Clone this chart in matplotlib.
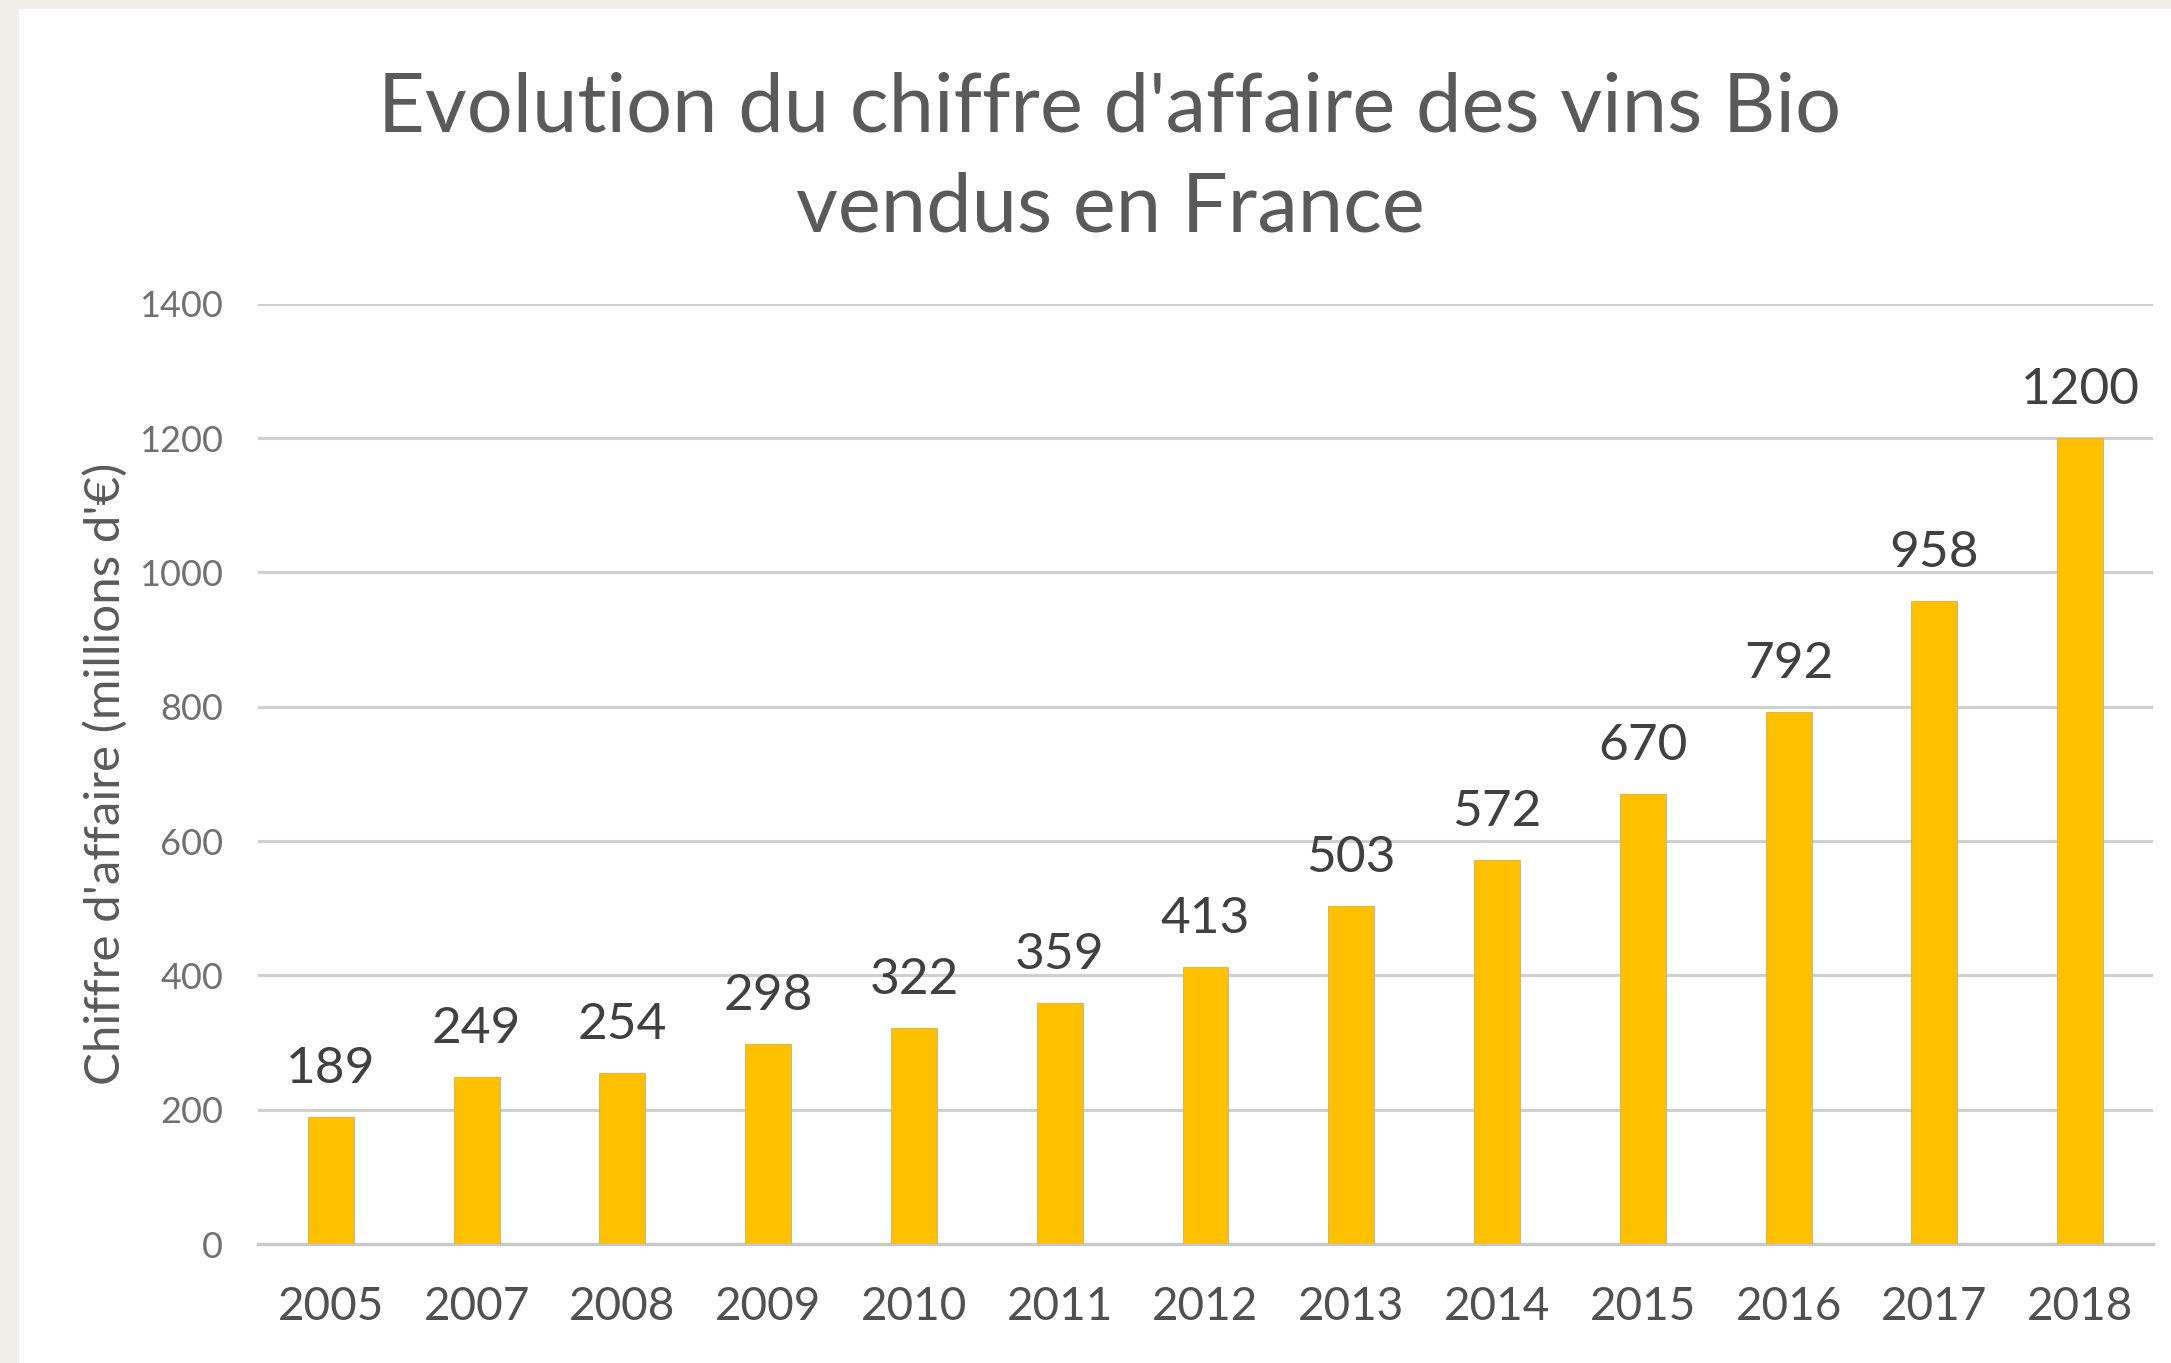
import matplotlib
matplotlib.use("Agg")
import matplotlib.pyplot as plt
from matplotlib.patches import Rectangle

years = ["2005", "2007", "2008", "2009", "2010", "2011", "2012", "2013",
         "2014", "2015", "2016", "2017", "2018"]
values = [189, 249, 254, 298, 322, 359, 413, 503, 572, 670, 792, 958, 1200]
yticks = [0, 200, 400, 600, 800, 1000, 1200, 1400]
title_lines = ["Evolution du chiffre d'affaire des vins Bio", "vendus en France"]

W, H, DPI = 2171, 1363, 100
fig = plt.figure(figsize=(W / DPI, H / DPI), dpi=DPI)
fig.patch.set_facecolor("#F0EEE7")
fig.patches.append(Rectangle((19 / W, 0), 1 - 19 / W, 1 - 9 / H,
                             transform=fig.transFigure, facecolor="white",
                             edgecolor="none", zorder=-10))

FONT = ["Lato", "DejaVu Sans"]

ax = fig.add_axes([258 / W, 1 - 1244 / H, (2153 - 258) / W, (1244 - 303.7) / H])
ax.set_zorder(5)
ax.set_facecolor("none")
x = range(len(years))
bars = ax.bar(x, values, width=0.315, color="#FFC000", edgecolor="#C8B070",
              linewidth=0.6, zorder=3)
ax.set_xlim(-0.5, len(years) - 0.5)
ax.set_ylim(0, 1400)
ax.set_yticks(yticks)
ax.set_xticks(list(x))
ax.set_xticklabels(years)
ax.yaxis.grid(True, color="#D0D0D0", linewidth=2.2, zorder=0)
ax.set_axisbelow(True)
for s in ["top", "right", "left"]:
    ax.spines[s].set_visible(False)
ax.spines["bottom"].set_color("#C8C8C8")
ax.spines["bottom"].set_linewidth(2.4)
ax.tick_params(axis="both", length=0)
ax.tick_params(axis="y", pad=25, labelsize=26, labelcolor="#707070")
ax.tick_params(axis="x", pad=30, labelsize=33, labelcolor="#505050")
for lab in ax.get_yticklabels():
    lab.set_family(FONT)
for lab in ax.get_xticklabels():
    lab.set_family(FONT)

for xi, v in zip(x, values):
    ax.annotate(str(v), (xi, v), xytext=(0, 18), textcoords="offset points",
                ha="center", va="bottom", fontsize=37, color="#404040",
                family=FONT)

ax.set_ylabel("Chiffre d'affaire (millions d'€)", fontsize=35.5, color="#5A5A5A",
              family=FONT)
ax.yaxis.set_label_coords(-(258 - 128) / (2153 - 258), 0.5)

for line, yb in zip(title_lines, [131, 231]):
    fig.text(1110 / W, 1 - yb / H, line, ha="center", va="baseline",
             fontsize=58.5, color="#5A5A5A", family=FONT, zorder=6)

fig.savefig("out.png", dpi=DPI, facecolor=fig.get_facecolor())
